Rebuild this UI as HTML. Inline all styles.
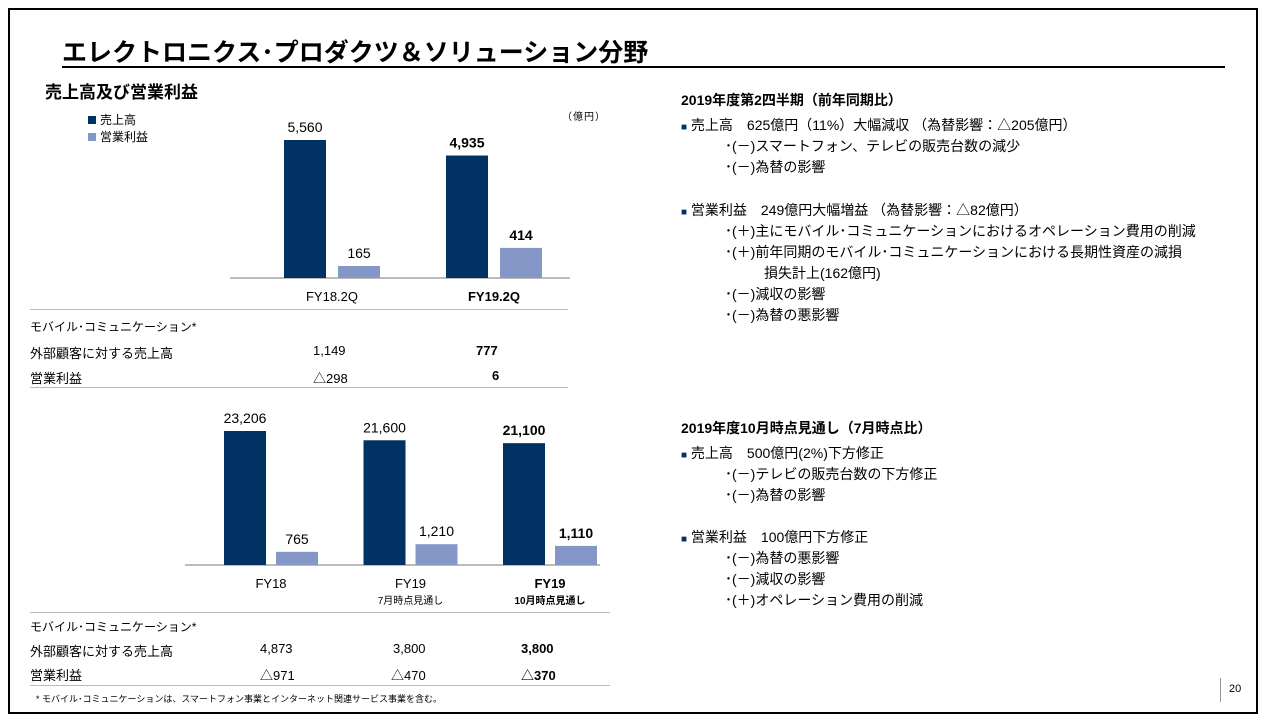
<!DOCTYPE html>
<html><head><meta charset="utf-8">
<style>
body{margin:0;width:1263px;height:722px;background:#fff;overflow:hidden;font-family:"Liberation Sans","Noto Sans CJK JP",sans-serif;color:#000;position:relative}
.a{position:absolute;white-space:nowrap}
.r{font-size:14px;line-height:21px}
</style></head><body>
<div class="a" style="left:8px;top:8px;width:1246px;height:702px;border:2px solid #000"></div>
<div class="a" style="left:62px;top:33px;font-size:25px;font-weight:bold">エレクトロニクス･プロダクツ＆ソリューション分野</div>
<div class="a" style="left:62px;top:66px;width:1163px;height:2px;background:#000"></div>
<div class="a" style="left:45px;top:78px;font-size:17px;font-weight:bold">売上高及び営業利益</div>
<div class="a" style="left:88px;top:111px;font-size:12px"><span style="display:inline-block;width:8px;height:8px;background:#003263;margin-right:4px"></span>売上高</div>
<div class="a" style="left:88px;top:128px;font-size:12px"><span style="display:inline-block;width:8px;height:8px;background:#8497c7;margin-right:4px"></span>営業利益</div>
<div class="a" style="left:562px;top:108px;font-size:10px;letter-spacing:1px">（億円）</div>
<svg class="a" style="left:0;top:0" width="1263" height="722" id="ch"></svg>

<div class="a" style="left:30px;top:309px;width:538px;height:1px;background:#bbb"></div>
<div class="a" style="left:30px;top:387px;width:538px;height:1px;background:#bbb"></div>
<div class="a" style="left:30px;top:318px;font-size:12px">モバイル･コミュニケーション*</div>
<div class="a" style="left:30px;top:343px;font-size:13px">外部顧客に対する売上高</div>
<div class="a" style="left:30px;top:368px;font-size:13px">営業利益</div>
<div class="a" style="left:313px;top:343px;font-size:13px">1,149</div>
<div class="a" style="left:476px;top:343px;font-size:13px;font-weight:bold">777</div>
<div class="a" style="left:313px;top:368px;font-size:13px">△298</div>
<div class="a" style="left:492px;top:368px;font-size:13px;font-weight:bold">6</div>

<div class="a" style="left:30px;top:612px;width:580px;height:1px;background:#bbb"></div>
<div class="a" style="left:30px;top:685px;width:580px;height:1px;background:#bbb"></div>
<div class="a" style="left:30px;top:618px;font-size:12px">モバイル･コミュニケーション*</div>
<div class="a" style="left:30px;top:641px;font-size:13px">外部顧客に対する売上高</div>
<div class="a" style="left:30px;top:665px;font-size:13px">営業利益</div>
<div class="a" style="left:260px;top:641px;font-size:13px">4,873</div>
<div class="a" style="left:393px;top:641px;font-size:13px">3,800</div>
<div class="a" style="left:521px;top:641px;font-size:13px;font-weight:bold">3,800</div>
<div class="a" style="left:260px;top:665px;font-size:13px">△971</div>
<div class="a" style="left:391px;top:665px;font-size:13px">△470</div>
<div class="a" style="left:521px;top:665px;font-size:13px;font-weight:bold">△370</div>
<div class="a" style="left:36px;top:692px;font-size:9px">* モバイル･コミュニケーションは、スマートフォン事業とインターネット関連サービス事業を含む。</div>

<div class="a r" style="left:681px;top:90px;font-weight:bold">2019年度第2四半期（前年同期比）</div>
<div class="a r" style="left:681px;top:115px"><span style="color:#003263;font-size:10px">■</span> 売上高　625億円（11%）大幅減収 （為替影響：△205億円）</div>
<div class="a r" style="left:725px;top:136px">･(－)スマートフォン、テレビの販売台数の減少</div>
<div class="a r" style="left:725px;top:157px">･(－)為替の影響</div>
<div class="a r" style="left:681px;top:200px"><span style="color:#003263;font-size:10px">■</span> 営業利益　249億円大幅増益 （為替影響：△82億円）</div>
<div class="a r" style="left:725px;top:221px">･(＋)主にモバイル･コミュニケーションにおけるオペレーション費用の削減</div>
<div class="a r" style="left:725px;top:242px">･(＋)前年同期のモバイル･コミュニケーションにおける長期性資産の減損</div>
<div class="a r" style="left:764px;top:263px">損失計上(162億円)</div>
<div class="a r" style="left:725px;top:284px">･(－)減収の影響</div>
<div class="a r" style="left:725px;top:305px">･(－)為替の悪影響</div>

<div class="a r" style="left:681px;top:418px;font-weight:bold">2019年度10月時点見通し（7月時点比）</div>
<div class="a r" style="left:681px;top:443px"><span style="color:#003263;font-size:10px">■</span> 売上高　500億円(2%)下方修正</div>
<div class="a r" style="left:725px;top:464px">･(－)テレビの販売台数の下方修正</div>
<div class="a r" style="left:725px;top:485px">･(－)為替の影響</div>
<div class="a r" style="left:681px;top:527px"><span style="color:#003263;font-size:10px">■</span> 営業利益　100億円下方修正</div>
<div class="a r" style="left:725px;top:548px">･(－)為替の悪影響</div>
<div class="a r" style="left:725px;top:569px">･(－)減収の影響</div>
<div class="a r" style="left:725px;top:590px">･(＋)オペレーション費用の削減</div>

<div class="a" style="left:1220px;top:678px;width:1px;height:24px;background:#999"></div>
<div class="a" style="left:1229px;top:683px;font-size:11px">20</div>

<script>
const c1Cats=["FY18.2Q","FY19.2Q"];
const c1Sales=[5560,4935];
const c1Profit=[165,414];
const c1SalesLbl=["5,560","4,935"];
const c1ProfitLbl=["165","414"];
const c2Cats=["FY18","FY19","FY19"];
const c2Sub=["","7月時点見通し","10月時点見通し"];
const c2Sales=[23206,21600,21100];
const c2Profit=[765,1210,1110];
const c2SalesLbl=["23,206","21,600","21,100"];
const c2ProfitLbl=["765","1,210","1,110"];
const svg=document.getElementById('ch');
const NS="http://www.w3.org/2000/svg";
function mk(t,a){const e=document.createElementNS(NS,t);for(const k in a)e.setAttribute(k,a[k]);svg.appendChild(e);return e;}
function draw(cfg){
  const {x0,x1,base,cats,sales,profit,sl,pl,ks,kp,xs,bw,bold,sub}=cfg;
  const ax=mk('line',{x1:x0,x2:x1,y1:base,y2:base,stroke:'#777','stroke-width':1});
  
  
  cats.forEach((cat,i)=>{
    const sx=xs(i), px=sx+bw+cfg.gap;
    const hs=sales[i]*ks, hp=profit[i]*kp;
    const b=mk('rect',{x:sx,y:base-hs,width:bw,height:hs,fill:'#003263'});
    
    
    const p=mk('rect',{x:px,y:base-hp,width:bw,height:hp,fill:'#8497c7'});
    
    
    const fw=bold[i]?'bold':'normal';
    const t1=mk('text',{x:sx+bw/2,y:base-hs-8,'text-anchor':'middle','font-size':14,'font-weight':fw});t1.textContent=sl[i];
    
    
    const t2=mk('text',{x:px+bw/2,y:base-hp-8,'text-anchor':'middle','font-size':14,'font-weight':fw});t2.textContent=pl[i];
    
    
    const cx=(sx+px+bw)/2;
    const t3=mk('text',{x:cx,y:base+23,'text-anchor':'middle','font-size':13,'font-weight':fw});t3.textContent=cat;
    
    
    if(sub&&sub[i]){const t4=mk('text',{x:cx,y:base+39,'text-anchor':'middle','font-size':10,'font-weight':fw});t4.textContent=sub[i];
    
    }
  });
}
draw({x0:230,x1:570,base:278,cats:c1Cats,sales:c1Sales,profit:c1Profit,sl:c1SalesLbl,pl:c1ProfitLbl,ks:138/5560,kp:12/165,xs:i=>284+i*162,bw:42,gap:12,bold:[false,true]});
draw({x0:185,x1:600,base:565,cats:c2Cats,sales:c2Sales,profit:c2Profit,sl:c2SalesLbl,pl:c2ProfitLbl,ks:134/23206,kp:0.0172,xs:i=>224+i*139.5,bw:42,gap:10,bold:[false,false,true],sub:c2Sub});
</script>
</body></html>
